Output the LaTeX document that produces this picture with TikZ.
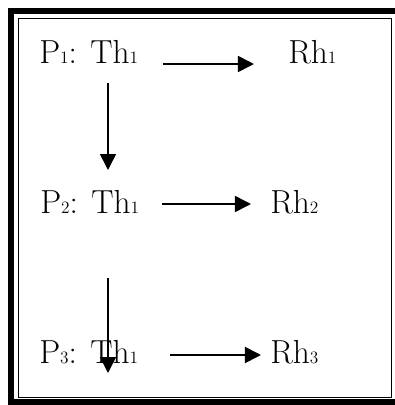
\documentclass[tikz,border=0pt]{standalone}
\usepackage{tikz}
\usetikzlibrary{arrows.meta}

\newcommand{\idx}[1]{{\fontsize{13}{14}\selectfont #1}}

\begin{document}
\begin{tikzpicture}[
                    x=0.75pt, y=-0.75pt,
                    term/.style={inner sep=0pt, anchor=base west, font=\fontsize{25}{30}\selectfont},
                    arrow/.style={-{Triangle[length=12pt, width=12pt]}, line width=1.2pt, draw=black}
                ]
                    \useasboundingbox (0,0) rectangle (395,405);
                    % double frame
                    \draw[line width=4.6pt] (11,11) rectangle (400,402);
                    \draw[line width=1pt] (18.5,18.5) rectangle (391.5,397.5);

                    \node[term] (p1) at (39,63) {P\idx{1}: Th\idx{1}};
                    \node[term] (r1) at (288,63) {Rh\idx{1}};
                    \node[term] (p2) at (40,213) {P\idx{2}: Th\idx{1}};
                    \node[term] (r2) at (270,213) {Rh\idx{2}};
                    \node[term] (p3) at (39,363) {P\idx{3}: Th\idx{1}};
                    \node[term] (r3) at (270,363) {Rh\idx{3}};

                    \coordinate (h1a) at (163,64);  \coordinate (h1b) at (254,64);
                    \coordinate (h2a) at (162,204); \coordinate (h2b) at (251,204);
                    \coordinate (h3a) at (170,355); \coordinate (h3b) at (261,355);
                    \coordinate (v1a) at (108,83);  \coordinate (v1b) at (108,170);
                    \coordinate (v2a) at (108,278); \coordinate (v2b) at (108,373);

                    \draw[arrow] (h1a) -- (h1b);
                    \draw[arrow] (h2a) -- (h2b);
                    \draw[arrow] (h3a) -- (h3b);
                    \draw[arrow] (v1a) -- (v1b);
                    \draw[arrow] (v2a) -- (v2b);

                \end{tikzpicture}
\end{document}
